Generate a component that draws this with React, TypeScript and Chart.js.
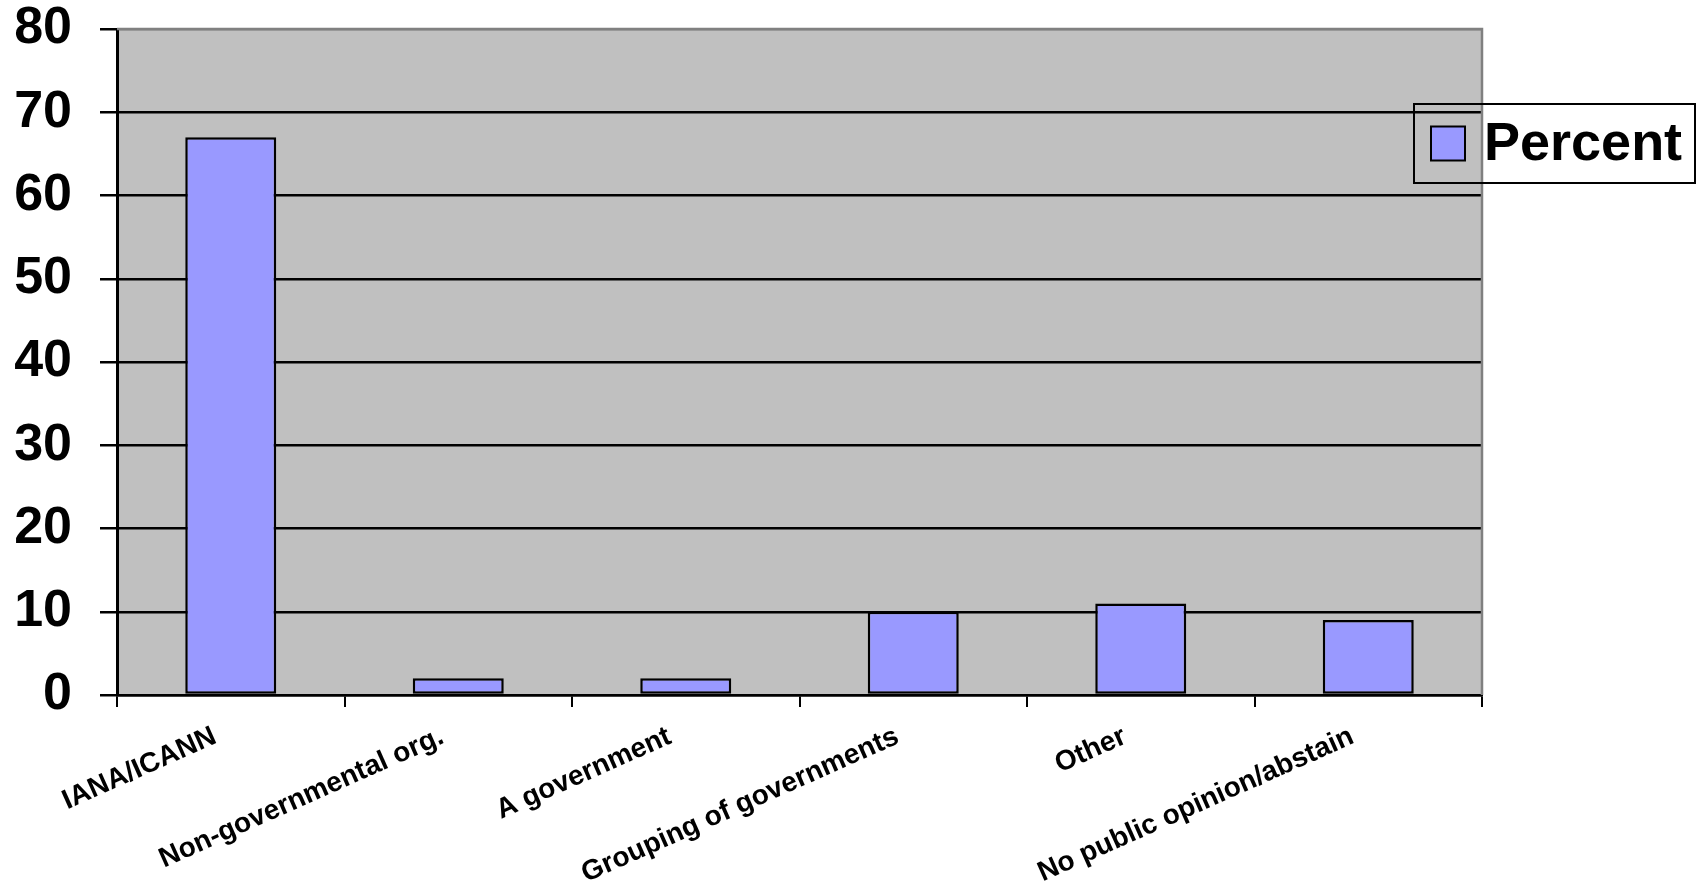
import React, { useEffect, useRef } from "react";
import { Chart, registerables } from "chart.js";

Chart.register(...registerables);

const categories = [
  "IANA/ICANN",
  "Non-governmental org.",
  "A government",
  "Grouping of governments",
  "Other",
  "No public opinion/abstain",
];
const percentValues = [67, 2, 2, 10, 11, 9];
const seriesLabel = "Percent";
const yMin = 0;
const yMax = 80;
const yStep = 10;

const FONT = "'Liberation Sans', Arial, Helvetica, sans-serif";
const BAR_FILL = "#9999ff";
const PLOT_BG = "#c0c0c0";
const BORDER_GRAY = "#808080";

const plotBackground = {
  id: "plotBackground",
  beforeDraw(chart: any) {
    const { ctx, chartArea } = chart;
    if (!chartArea) return;
    ctx.save();
    ctx.fillStyle = PLOT_BG;
    ctx.fillRect(chartArea.left, chartArea.top, chartArea.right - chartArea.left, chartArea.bottom - chartArea.top);
    ctx.restore();
  },
  beforeDatasetsDraw(chart: any) {
    const { ctx, chartArea } = chart;
    ctx.save();
    ctx.strokeStyle = BORDER_GRAY;
    ctx.lineWidth = 2.5;
    ctx.beginPath();
    ctx.moveTo(chartArea.left, chartArea.top);
    ctx.lineTo(chartArea.right, chartArea.top);
    ctx.lineTo(chartArea.right, chartArea.bottom);
    ctx.stroke();
    ctx.restore();
  },
};

const customLegend = {
  id: "customLegend",
  afterDraw(chart: any) {
    const { ctx, chartArea } = chart;
    const ds = chart.data.datasets[0];
    const boxL = chartArea.right - 68;
    const boxT = chartArea.top + 75;
    const boxW = 281;
    const boxH = 79;
    ctx.save();
    ctx.strokeStyle = "#000";
    ctx.lineWidth = 2;
    ctx.strokeRect(boxL, boxT, boxW, boxH);
    const sw = 34;
    const swL = boxL + 17;
    const swT = boxT + (boxH - sw) / 2;
    ctx.fillStyle = ds.backgroundColor;
    ctx.fillRect(swL, swT, sw, sw);
    ctx.lineWidth = 2;
    ctx.strokeRect(swL, swT, sw, sw);
    ctx.fillStyle = "#000";
    ctx.font = `bold 54px ${FONT}`;
    ctx.textBaseline = "middle";
    ctx.textAlign = "left";
    ctx.fillText(ds.label, swL + sw + 19, boxT + boxH / 2 + 2);
    ctx.restore();
  },
};

export default function App() {
  const canvasRef = useRef<HTMLCanvasElement | null>(null);

  useEffect(() => {
    if (!canvasRef.current) return;
    const chart = new Chart(canvasRef.current, {
      type: "bar",
      data: {
        labels: categories,
        datasets: [
          {
            label: seriesLabel,
            data: percentValues,
            backgroundColor: BAR_FILL,
            borderColor: "#000",
            borderWidth: 2.5,
            borderSkipped: false,
            barPercentage: 0.4,
            categoryPercentage: 1,
          },
        ],
      },
      options: {
        animation: false,
        responsive: true,
        maintainAspectRatio: false,
        devicePixelRatio: 1,
        layout: { padding: { top: 29, right: 220, left: 0, bottom: 0 } },
        plugins: {
          legend: { display: false },
          tooltip: { enabled: false },
          title: { display: false },
        },
        scales: {
          x: {
            offset: true,
            grid: {
              display: true,
              offset: true,
              drawOnChartArea: false,
              drawTicks: true,
              tickLength: 12,
              color: "#000",
              lineWidth: 2,
            },
            border: { display: true, color: "#000", width: 2.5 },
            ticks: {
              autoSkip: false,
              minRotation: 24,
              maxRotation: 24,
              padding: 13,
              labelOffset: -16,
              color: "#000",
              font: { family: FONT, size: 28, weight: "bold" },
            },
            afterFit(scale: any) {
              scale.height = 186;
              scale.paddingLeft = 0;
              scale.paddingRight = 0;
            },
          },
          y: {
            min: yMin,
            max: yMax,
            grid: {
              color: (c: any) => (c.tick && c.tick.value === yMax ? BORDER_GRAY : "#000"),
              tickColor: "#000",
              lineWidth: 2.5,
              tickLength: 17,
              drawTicks: true,
            },
            border: { display: true, color: "#000", width: 3 },
            ticks: {
              stepSize: yStep,
              padding: 28,
              color: "#000",
              font: { family: FONT, size: 52, weight: "bold", lineHeight: 1.1 },
            },
            afterFit(scale: any) {
              scale.width = 117;
              scale.paddingTop = 0;
              scale.paddingBottom = 0;
            },
          },
        },
      },
      plugins: [plotBackground, customLegend],
    });
    return () => chart.destroy();
  }, []);

  return (
    <div style={{ position: "fixed", left: 0, top: 0, width: 1702, height: 881, background: "#fff" }}>
      <canvas ref={canvasRef} />
    </div>
  );
}
